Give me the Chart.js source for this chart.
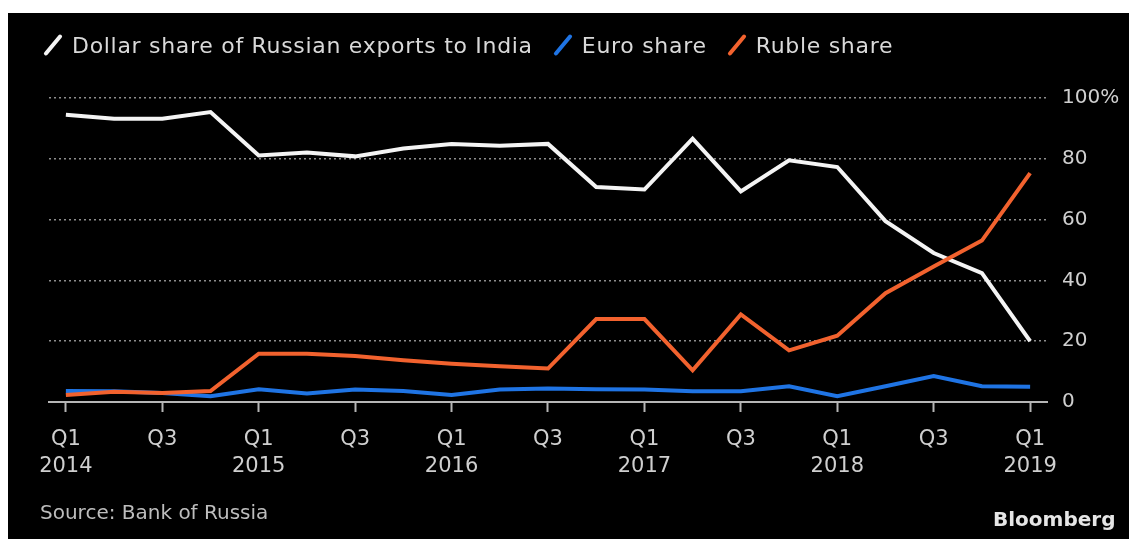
<!DOCTYPE html>
<html>
<head>
<meta charset="utf-8">
<script src="https://cdn.jsdelivr.net/npm/chart.js@4.4.1/dist/chart.umd.min.js"></script>
<style>
  html, body { margin: 0; padding: 0; background: #fff; }
  body { width: 1129px; height: 539px; position: relative; overflow: hidden; font-family: 'DejaVu Sans', sans-serif; }
  #panel { position: absolute; left: 8px; top: 13px; width: 1121px; height: 526px; background: #000; }
  #chart-wrap { position: absolute; left: 0; top: 0; width: 1121px; height: 526px; }
  #legend { position: absolute; left: 35px; top: 16px; height: 32px; display: flex; align-items: center; color: #d9d9d9; font-size: 22px; letter-spacing: 0.7px; }
  .item { display: flex; align-items: center; margin-right: 20px; }
  .swatch { position: relative; width: 20px; height: 20px; margin-right: 9px; }
  .swatch span { position: absolute; left: -3px; top: 8px; width: 26px; height: 4px; border-radius: 2px; transform: rotate(-50deg); }
  #source { position: absolute; left: 32px; top: 487px; color: #bdbdbd; font-size: 20px; }
  #brand { position: absolute; left: 985px; top: 494px; color: #e6e6e6; font-size: 20px; font-weight: bold; }
</style>
</head>
<body>
<div id="panel">
  <div id="chart-wrap"><canvas id="chart"></canvas></div>
  <div id="legend"></div>
  <div id="source">Source: Bank of Russia</div>
  <div id="brand">Bloomberg</div>
</div>
<script>
const quarters = [
  'Q1 2014', 'Q2 2014', 'Q3 2014', 'Q4 2014',
  'Q1 2015', 'Q2 2015', 'Q3 2015', 'Q4 2015',
  'Q1 2016', 'Q2 2016', 'Q3 2016', 'Q4 2016',
  'Q1 2017', 'Q2 2017', 'Q3 2017', 'Q4 2017',
  'Q1 2018', 'Q2 2018', 'Q3 2018', 'Q4 2018',
  'Q1 2019',
];
const dollarShare = [94.5, 93.2, 93.2, 95.4, 81.1, 82.1, 80.8, 83.4, 84.9, 84.3, 84.9, 70.7, 69.9, 86.6, 69.3, 79.5, 77.3, 59.5, 49.0, 42.4, 20.0];
const euroShare = [3.6, 3.5, 3.0, 1.9, 4.2, 2.8, 4.1, 3.6, 2.3, 4.1, 4.4, 4.2, 4.1, 3.5, 3.5, 5.2, 1.9, 5.2, 8.5, 5.2, 5.0];
const rubleShare = [2.3, 3.4, 3.0, 3.6, 15.9, 15.9, 15.1, 13.7, 12.6, 11.8, 11.0, 27.3, 27.3, 10.4, 28.8, 17.0, 21.8, 35.8, 44.6, 53.1, 75.3];
const yTicks = [0, 20, 40, 60, 80, 100];

const FONT = 'DejaVu Sans';

function series(label, values, color, order) {
  return {
    label,
    data: values.map((v, i) => ({ x: i, y: v })),
    borderColor: color,
    backgroundColor: color,
    borderWidth: 4,
    pointRadius: 0,
    tension: 0,
    clip: false,
    order,
  };
}

const chart = new Chart(document.getElementById('chart'), {
  type: 'line',
  data: {
    datasets: [
      series('Dollar share of Russian exports to India', dollarShare, '#f4f4f4', 3),
      series('Euro share', euroShare, '#1f74e4', 2),
      series('Ruble share', rubleShare, '#f2622e', 1),
    ],
  },
  options: {
    responsive: true,
    maintainAspectRatio: false,
    animation: false,
    layout: { padding: { top: 85, left: 41, right: 0, bottom: 0 } },
    plugins: { legend: { display: false }, tooltip: { enabled: false } },
    scales: {
      x: {
        type: 'linear',
        min: -0.35,
        max: 20.35,
        afterBuildTicks: (s) => { s.ticks = quarters.map((q, i) => ({ value: i })); },
        afterFit: (s) => { s.height = 137; },
        grid: {
          drawOnChartArea: false,
          drawTicks: true,
          tickLength: 10,
          tickWidth: 2,
          tickColor: (ctx) => (ctx.tick && ctx.tick.value % 2 === 0 ? '#b5b5b5' : 'rgba(0,0,0,0)'),
        },
        border: { display: true, color: '#b5b5b5', width: 2 },
        ticks: {
          autoSkip: false,
          maxRotation: 0,
          padding: 14,
          color: '#cfcfcf',
          font: { family: FONT, size: 21, lineHeight: 1.3 },
          callback: (v) => {
            if (v % 2 !== 0) return '';
            const [q, year] = quarters[v].split(' ');
            return q === 'Q1' ? [q, year] : q;
          },
        },
      },
      y: {
        position: 'right',
        min: 0,
        max: 100,
        afterBuildTicks: (s) => { s.ticks = yTicks.map((v) => ({ value: v })); },
        afterFit: (s) => { s.width = 82; },
        grid: {
          color: (ctx) => (ctx.tick && ctx.tick.value === 0 ? 'rgba(0,0,0,0)' : '#8e8e8e'),
          lineWidth: 1.5,
          drawTicks: false,
        },
        border: { display: false, dash: [2, 3] },
        ticks: {
          padding: 15,
          color: '#cfcfcf',
          font: { family: FONT, size: 20 },
          callback: (v) => (v === 100 ? v + '%' : v),
        },
      },
    },
  },
});

// legend with slanted line swatches, built from the datasets
const legend = document.getElementById('legend');
chart.data.datasets.forEach((ds) => {
  const item = document.createElement('div');
  item.className = 'item';
  const sw = document.createElement('div');
  sw.className = 'swatch';
  const bar = document.createElement('span');
  bar.style.background = ds.borderColor;
  sw.appendChild(bar);
  const txt = document.createElement('span');
  txt.textContent = ds.label;
  item.appendChild(sw);
  item.appendChild(txt);
  legend.appendChild(item);
});
</script>
</body>
</html>
